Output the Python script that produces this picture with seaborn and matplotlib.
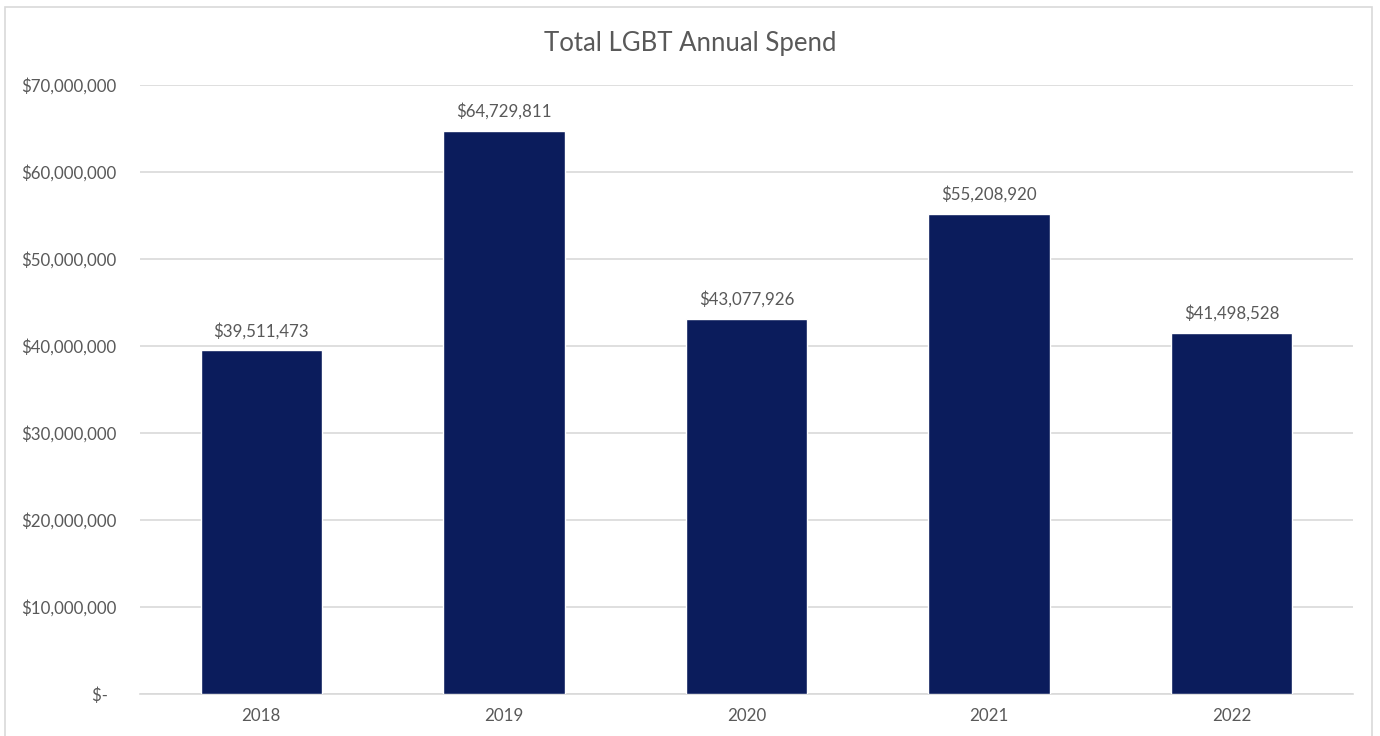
import matplotlib
matplotlib.use("Agg")
import matplotlib.pyplot as plt
import seaborn as sns
import pandas as pd

years = ["2018", "2019", "2020", "2021", "2022"]
spend = [39511473, 64729811, 43077926, 55208920, 41498528]
y_ticks = [0, 10000000, 20000000, 30000000, 40000000, 50000000, 60000000, 70000000]

sns.set_theme(style="white")
plt.rcParams["font.family"] = ["Lato", "DejaVu Sans"]

TEXT = "#595959"
GRID = "#d9d9d9"
BAR = "#0b1c5c"

df = pd.DataFrame({"year": years, "spend": spend})

fig = plt.figure(figsize=(13.8, 7.36), dpi=100)
ax = fig.add_axes([140 / 1380, 1 - 694 / 736, (1353 - 140) / 1380, (694 - 85) / 736])

sns.barplot(data=df, x="year", y="spend", color=BAR, saturation=1, width=0.5, ax=ax, zorder=3)

ax.set_xlim(-0.5, len(years) - 0.5)
ax.set_ylim(0, 70000000)
ax.set_yticks(y_ticks)
ax.set_yticklabels(["$-  " if v == 0 else f"${v:,.0f}" for v in y_ticks])
ax.yaxis.grid(True, color=GRID, linewidth=1.2, zorder=0)
ax.set_axisbelow(True)
for s in ["top", "right", "left"]:
    ax.spines[s].set_visible(False)
ax.spines["bottom"].set_color(GRID)
ax.spines["bottom"].set_linewidth(1.2)
ax.tick_params(axis="both", length=0, labelsize=12.2, colors=TEXT)
ax.tick_params(axis="y", pad=17)
ax.tick_params(axis="x", pad=10)
ax.set_xlabel("")
ax.set_ylabel("")

for i, v in enumerate(spend):
    ax.annotate(f"${v:,.0f}", xy=(i, v), xytext=(0, 8), textcoords="offset points",
                ha="center", va="bottom", fontsize=12.2, color=TEXT)

fig.text(0.5, 1 - 44 / 736, "Total LGBT Annual Spend", ha="center", va="center",
         fontsize=18.5, color=TEXT)

# chart-area border
border = plt.Rectangle((5 / 1380, -0.01), (1372 - 5) / 1380, 1 - 7 / 736 + 0.01,
                       transform=fig.transFigure, fill=False, edgecolor=GRID, linewidth=1.2)
fig.add_artist(border)

fig.savefig("out.png", dpi=100)
